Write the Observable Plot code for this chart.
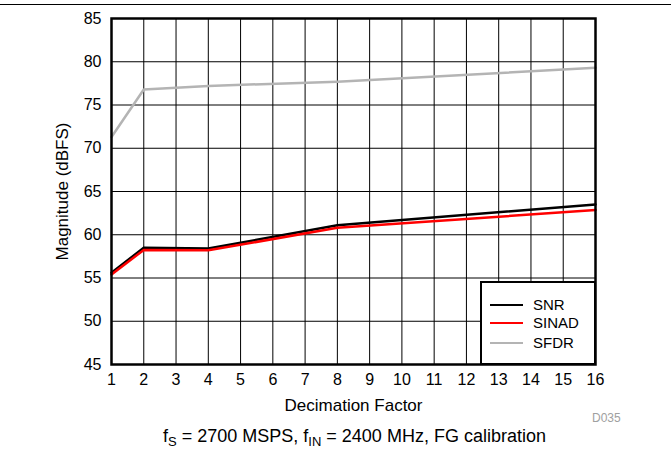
<!DOCTYPE html>
<html><head><meta charset="utf-8">
<script src="https://cdn.jsdelivr.net/npm/d3@7"></script>
<script src="https://cdn.jsdelivr.net/npm/@observablehq/plot@0.6"></script>
<style>
body{margin:0;background:#fff;}
#wrap{position:relative;width:671px;height:459px;font-family:"Liberation Sans",Arial,sans-serif;overflow:hidden;color:#000}
#topline{position:absolute;left:0;top:4px;width:671px;height:0;border-top:1.5px solid #000}
#legend{position:absolute;left:480px;top:281px;width:112px;height:80px;border:2px solid #000;background:#fff;box-sizing:content-box}
.lg{position:absolute;left:8px;font-size:15px;line-height:15px;height:15px;white-space:nowrap}
.lg span.sw{display:inline-block;width:33px;height:0;border-top:2.5px solid;vertical-align:middle;margin-right:10px;position:relative;top:-1px}
#caption{position:absolute;left:0;width:709px;top:426px;text-align:center;font-size:18px;white-space:nowrap}
#caption sub{font-size:13px;vertical-align:-4px;line-height:0}
#code{position:absolute;left:592px;top:411px;font-size:12px;color:#a0a0a0}
#wrap svg g[aria-label="x-axis tick label"] text,
#wrap svg g[aria-label="y-axis tick label"] text{font-size:16px !important}
#wrap svg g[aria-label="x-axis tick label"],
#wrap svg g[aria-label="y-axis tick label"]{font-size:16px !important}
</style></head><body><div id="wrap"><div id="topline"></div></div>
<script>
const decimation = [1, 2, 4, 8, 16];
const snr = [55.6, 58.5, 58.4, 61.1, 63.5];
const sinad = [55.4, 58.25, 58.2, 60.8, 62.85];
const sfdr = [71.3, 76.8, 77.2, 77.7, 79.3];
const xTicks = [1,2,3,4,5,6,7,8,9,10,11,12,13,14,15,16];
const yTicks = [45,50,55,60,65,70,75,80,85];
const seriesNames = ["SNR", "SINAD", "SFDR"];
const seriesColors = ["#000000", "#ff0000", "#b4b4b4"];
const xLabel = "Decimation Factor";
const yLabel = "Magnitude (dBFS)";

const seriesValues = [snr, sinad, sfdr];
const rows = (k) => decimation.map((d, i) => ({x: d, y: seriesValues[k][i]}));
const font = '"Liberation Sans", Arial, sans-serif';

const plot = Plot.plot({
  width: 671, height: 459,
  marginLeft: 111, marginRight: 76, marginTop: 18, marginBottom: 95,
  style: {fontFamily: font, fontSize: "16px", color: "#000", background: "transparent"},
  x: {domain: [1, 16], label: null},
  y: {domain: [45, 85], label: null},
  marks: [
    Plot.gridX(xTicks, {stroke: "#000", strokeOpacity: 1, strokeWidth: 1}),
    Plot.gridY(yTicks, {stroke: "#000", strokeOpacity: 1, strokeWidth: 1}),
    Plot.axisX(xTicks, {tickSize: 0, tickPadding: 9, label: null, fontSize: 16}),
    Plot.axisY(yTicks, {tickSize: 0, tickPadding: 10, label: null, fontSize: 16}),
    Plot.line(rows(2), {x: "x", y: "y", stroke: seriesColors[2], strokeWidth: 2.5}),
    Plot.line(rows(0), {x: "x", y: "y", stroke: seriesColors[0], strokeWidth: 2.5}),
    Plot.line(rows(1), {x: "x", y: "y", stroke: seriesColors[1], strokeWidth: 2.5}),
    Plot.frame({stroke: "#000", strokeWidth: 2.5}),
    Plot.text([xLabel], {frameAnchor: "bottom", text: d => d, dy: 41, lineAnchor: "middle", fontSize: 17}),
    Plot.text([yLabel], {frameAnchor: "left", text: d => d, dx: -49, rotate: -90, lineAnchor: "middle", textAnchor: "middle", fontSize: 17})
  ]
});
const wrap = document.getElementById("wrap");
plot.style.position = "absolute"; plot.style.left = "0"; plot.style.top = "0";
wrap.appendChild(plot);

const legend = document.createElement("div");
legend.id = "legend";
const ys = [14, 32, 52];
seriesNames.forEach((n, i) => {
  const r = document.createElement("div");
  r.className = "lg";
  r.style.top = ys[i] + "px";
  r.innerHTML = `<span class="sw" style="border-color:${seriesColors[i]}"></span>${n}`;
  legend.appendChild(r);
});
wrap.appendChild(legend);

const code = document.createElement("div");
code.id = "code"; code.textContent = "D035";
wrap.appendChild(code);

const cap = document.createElement("div");
cap.id = "caption";
cap.innerHTML = "f<sub>S</sub> = 2700 MSPS, f<sub>IN</sub> = 2400 MHz, FG calibration";
wrap.appendChild(cap);
</script>
</body></html>
